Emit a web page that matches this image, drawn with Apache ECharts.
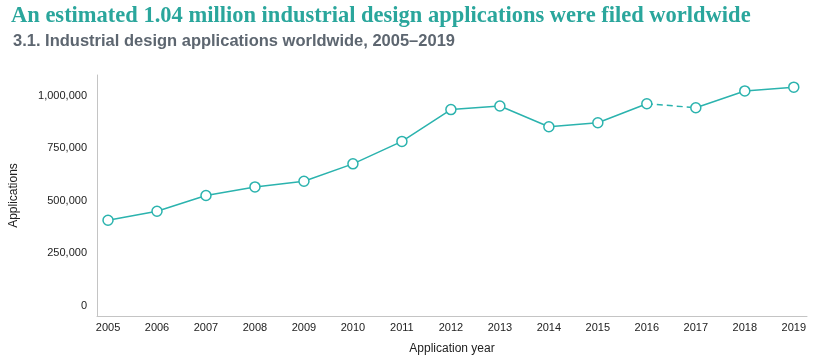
<!DOCTYPE html>
<html><head><meta charset="utf-8">
<script src="https://cdn.jsdelivr.net/npm/echarts@6/dist/echarts.min.js"></script>
<style>html,body{margin:0;padding:0;background:#fff}#c{width:820px;height:364px}</style>
</head><body><div id="c"></div>
<script>
const years = [2005,2006,2007,2008,2009,2010,2011,2012,2013,2014,2015,2016,2017,2018,2019];
const applications = [407000,450000,525000,566000,593000,676000,783000,935000,952000,853000,872000,963000,944000,1024000,1042000];
const yTickLabels = [0,250000,500000,750000,1000000];
const titleText = 'An estimated 1.04 million industrial design applications were filed worldwide';
const subtitleText = '3.1. Industrial design applications worldwide, 2005–2019';

const pts = years.map((y,i)=>[y, applications[i]]);
const i16 = years.indexOf(2016), i17 = years.indexOf(2017);
const teal = '#2bb3ae';
const chart = echarts.init(document.getElementById('c'));
const sym = {symbol:'circle', symbolSize:10, itemStyle:{color:'#fff', borderColor:teal, borderWidth:1.5}};
chart.setOption({
  animation:false,
  title:[
    {text:titleText, left:6, top:0, textStyle:{fontFamily:'Liberation Serif', fontWeight:'bold', fontSize:22.5, color:'#2aa69c'}},
    {text:subtitleText, left:8, top:28, textStyle:{fontFamily:'Liberation Sans', fontWeight:'bold', fontSize:16.5, color:'#5d6670'}}
  ],
  grid:{left:97, right:13, top:75, bottom:48},
  xAxis:{type:'value', min:2004.775, max:2019.27,
    name:'Application year', nameLocation:'middle', nameGap:27,
    nameTextStyle:{fontFamily:'Liberation Sans', fontSize:12, color:'#222'},
    axisLine:{show:true, onZero:false, lineStyle:{color:'#c4c4c4'}}, axisTick:{show:false}, splitLine:{show:false},
    axisLabel:{customValues:years, formatter:v=>String(v), fontFamily:'Liberation Sans', fontSize:11, color:'#222', margin:6}
  },
  yAxis:{type:'value', min:-50000, max:1100000,
    name:'Applications', nameLocation:'middle', nameGap:77, nameRotate:90,
    nameTextStyle:{fontFamily:'Liberation Sans', fontSize:12, color:'#222'},
    axisLine:{show:true, onZero:false, lineStyle:{color:'#c4c4c4'}}, axisTick:{show:false}, splitLine:{show:false},
    axisLabel:{customValues:yTickLabels, formatter:v=>v.toLocaleString('en-US'), fontFamily:'Liberation Sans', fontSize:11, color:'#222', margin:10}
  },
  series:[
    Object.assign({type:'line', data:pts.slice(0,i16+1), lineStyle:{color:teal,width:1.5}, z:3}, sym),
    {type:'line', data:pts.slice(i16,i17+1), lineStyle:{color:teal,width:1.5,type:[6,4]}, symbol:'none', z:2},
    Object.assign({type:'line', data:pts.slice(i17), lineStyle:{color:teal,width:1.5}, z:3}, sym)
  ]
});
</script></body></html>
